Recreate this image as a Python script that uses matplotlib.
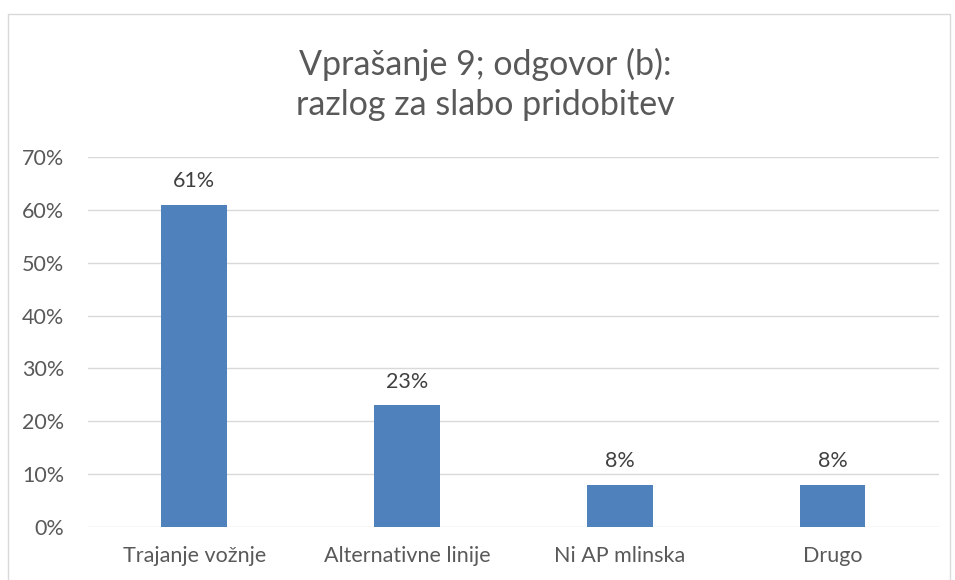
import matplotlib.pyplot as plt
from matplotlib.patches import Rectangle

# data
categories = ['Trajanje vožnje', 'Alternativne linije', 'Ni AP mlinska', 'Drugo']
values = [61, 23, 8, 8]
yticks = [0, 10, 20, 30, 40, 50, 60, 70]

plt.rcParams['font.family'] = ['Lato', 'DejaVu Sans']
text_color = '#595959'

fig = plt.figure(figsize=(9.55, 5.8), dpi=100)
ax = fig.add_axes([0.0921, 0.0914, 0.891, 0.638])

# outer chart border
fig.patches.append(Rectangle((8 / 955, -0.1), 942 / 955, 1.1 - 14 / 580,
                             transform=fig.transFigure, fill=False,
                             edgecolor='#D9D9D9', linewidth=1))

x = range(len(categories))
ax.bar(x, values, width=0.31, color='#4F81BD', zorder=3)
for i, v in zip(x, values):
    ax.text(i, v + 2.6, f'{v}%', ha='center', va='bottom', fontsize=15.5, color='#404040')

ax.set_xlim(-0.5, len(categories) - 0.5)
ax.set_ylim(0, 70)
ax.set_yticks(yticks)
ax.set_yticklabels([f'{t}%' for t in yticks])
ax.set_xticks(list(x))
ax.set_xticklabels(categories)
ax.tick_params(axis='both', length=0, labelsize=15.5, colors=text_color)
ax.tick_params(axis='y', pad=17)
ax.tick_params(axis='x', pad=14)
ax.grid(axis='y', color='#D9D9D9', linewidth=1, zorder=0)
for s in ax.spines.values():
    s.set_visible(False)

fig.text(0.508, 0.855, 'Vprašanje 9; odgovor (b):\nrazlog za slabo pridobitev',
         ha='center', va='center', fontsize=24.5, color=text_color, linespacing=1.32)

fig.savefig('out.png', dpi=100)
